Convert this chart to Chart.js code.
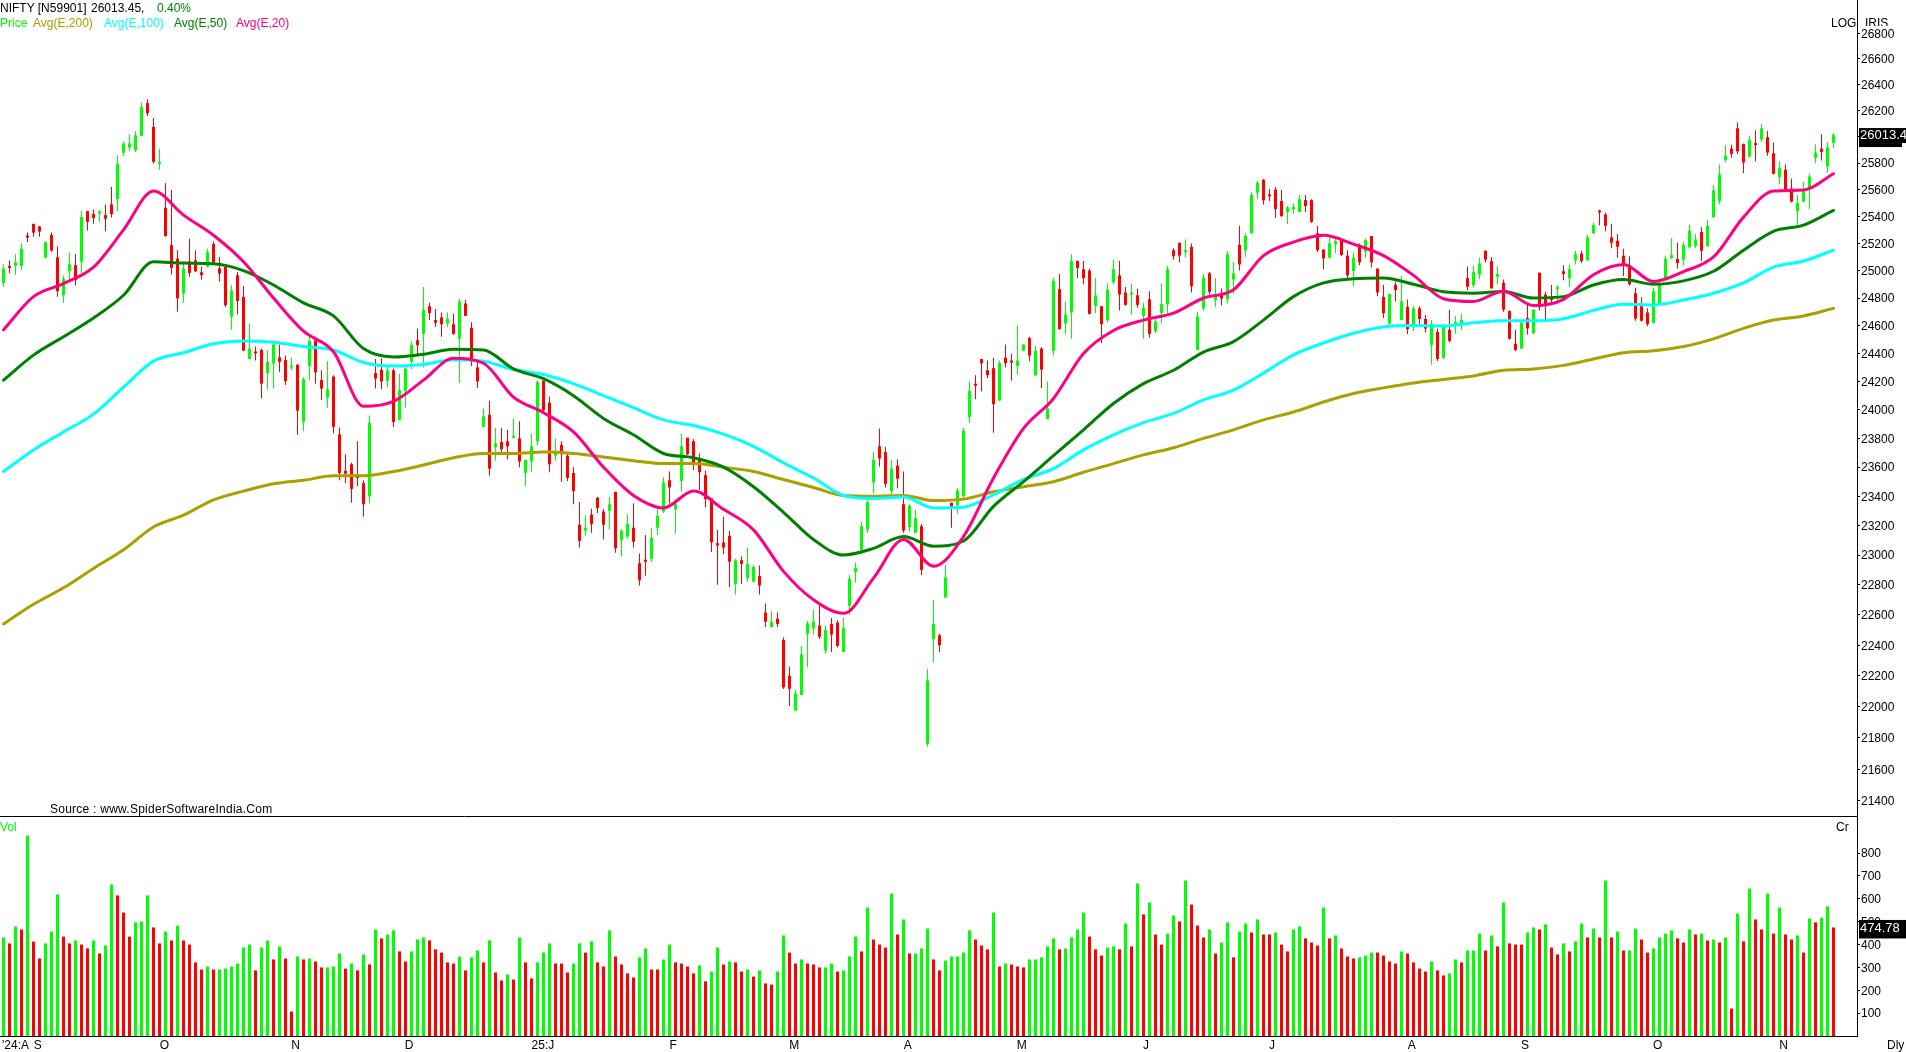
<!DOCTYPE html>
<html>
<head>
<meta charset="utf-8">
<title>NIFTY</title>
<script src="https://cdn.jsdelivr.net/npm/chart.js@4/dist/chart.umd.min.js"></script>
<style>
    html, body { margin: 0; padding: 0; background: #fff; width: 1906px; height: 1052px; overflow: hidden; }
    canvas { position: absolute; left: 0; display: block; }
    #priceChart { top: 0; }
    #volumeChart { top: 817px; }
    .txt { position: absolute; font: 12px/14px "Liberation Sans", sans-serif; white-space: pre; color: #000; }
</style>
</head>
<body>
<canvas id="priceChart" width="1906" height="817"></canvas>
<canvas id="volumeChart" width="1906" height="235"></canvas>

<div class="txt" style="left:0;top:1px">NIFTY [N59901]</div>
<div class="txt" style="left:91px;top:1px">26013.45,</div>
<div class="txt" style="left:157px;top:1px;color:#008000">0.40%</div>
<div class="txt" style="left:0;top:16px;color:#00ff00">Price</div>
<div class="txt" style="left:33px;top:16px;color:#aaa000">Avg(E,200)</div>
<div class="txt" style="left:104px;top:16px;color:#00ffff">Avg(E,100)</div>
<div class="txt" style="left:174px;top:16px;color:#008000">Avg(E,50)</div>
<div class="txt" style="left:236px;top:16px;color:#ff0080">Avg(E,20)</div>
<div class="txt" style="left:1831px;top:16px">LOG</div>
<div class="txt" style="left:1865px;top:16px;height:10px;overflow:hidden">IRIS</div>
<div class="txt" style="left:50px;top:802px;letter-spacing:0.25px">Source : www.SpiderSoftwareIndia.Com</div>
<div class="txt" style="left:0;top:820px;color:#00ff00">Vol</div>
<div class="txt" style="left:1836px;top:820px">Cr</div>
<div class="txt" style="left:1887px;top:1038px">Dly</div>

<script>
// =====
// Data
// =====
const candleOpen = [
    24910, 25032, 25035, 25035, 25255, 25345, 25325, 25095, 25262, 25098,
    24820, 24995, 25040, 25065, 25440, 25418, 25422, 25410, 25490, 25530,
    25878, 25918, 25898, 26007, 26258, 26075, 25795, 25465, 25188, 25088,
    24832, 25067, 25075, 24988, 25027, 25195, 25017, 25027, 24665, 24965,
    24808, 24360, 24412, 24425, 24260, 24328, 24372, 24353, 24300, 24320,
    23917, 24310, 24495, 24210, 24085, 24235, 23828, 23575, 23620, 23540,
    23490, 23400, 24260, 24285, 24205, 24280, 23930, 24135, 24340, 24495,
    24540, 24740, 24640, 24660, 24615, 24610, 24505, 24760, 24585, 24300,
    23880, 23965, 23740, 23775, 23780, 23805, 23800, 23560, 23640, 23780,
    24205, 24050, 23680, 23755, 23680, 23560, 23205, 23165, 23275, 23390,
    23295, 23300, 23430, 23100, 23125, 23185, 22945, 22965, 22975, 23185,
    23295, 23510, 23310, 23505, 23805, 23780, 23650, 23545, 23385, 23080,
    23085, 23130, 22805, 22965, 22845, 22820, 22860, 22615, 22520, 22575,
    22435, 22200, 21975, 22075, 22475, 22510, 22530, 22365, 22540, 22550,
    22355, 22660, 22885, 23035, 23175, 23495, 23745, 23705, 23435, 23610,
    23345, 23190, 23150, 23195, 21760, 22440, 22465, 22715, 23355, 23340,
    23400, 23950, 24185, 24360, 24280, 24295, 24065, 24370, 24345, 24310,
    24420, 24510, 24245, 24435, 23935, 24420, 24865, 24615, 24695, 25070,
    25010, 25000, 24740, 24740, 24640, 24915, 24965, 24840, 24825, 24820,
    24670, 24790, 24560, 24690, 24755, 25150, 25205, 25135, 25175, 24425,
    24725, 24980, 24785, 24820, 24790, 24935, 25190, 25150, 25274, 25578,
    25675, 25560, 25600, 25515, 25433, 25455, 25433, 25522, 25522, 25275,
    25155, 25095, 25195, 25225, 25110, 24998, 25175, 25140, 25255, 25015,
    24807, 24615, 24895, 24640, 24735, 24600, 24725, 24648, 24460, 24555,
    24370, 24570, 24605, 24605, 24945, 24892, 24970, 25145, 25070, 24955,
    24910, 24705, 24470, 24435, 24655, 24545, 24985, 24825, 24810, 24865,
    24995, 24945, 25075, 25125, 25075, 25275, 25445, 25415, 25245, 25220,
    25110, 25040, 24835, 24740, 24695, 24620, 24760, 24945, 25090, 25085,
    25080, 25170, 25180, 25285, 25180, 25395, 25515, 25825, 25910, 26065,
    25945, 25850, 25950, 25980, 25997, 25875, 25695, 25750, 25610, 25440,
    25510, 25610, 25840, 25910, 25775, 25955
];
const candleHigh = [
    25047, 25075, 25120, 25200, 25280, 25345, 25330, 25215, 25280, 25180,
    24965, 25135, 25120, 25445, 25440, 25452, 25448, 25490, 25620, 25860,
    25965, 26020, 26042, 26262, 26288, 26143, 25910, 25650, 25600, 25150,
    25050, 25235, 25150, 25030, 25160, 25215, 25100, 25040, 24892, 24990,
    24890, 24615, 24450, 24435, 24425, 24480, 24465, 24385, 24370, 24322,
    24230, 24536, 24520, 24280, 24345, 24245, 23877, 23690, 23630, 23780,
    23510, 23960, 24360, 24365, 24310, 24295, 24255, 24300, 24490, 24580,
    24880, 24765, 24720, 24695, 24695, 24685, 24795, 24785, 24625, 24360,
    24010, 24065, 23875, 23875, 23860, 23940, 23920, 23650, 23830, 24210,
    24210, 24095, 23800, 23780, 23700, 23600, 23360, 23270, 23315, 23395,
    23315, 23395, 23430, 23175, 23275, 23350, 23010, 23135, 23185, 23315,
    23530, 23570, 23380, 23835, 23805, 23795, 23695, 23575, 23385, 23170,
    23260, 23165, 22975, 22990, 23050, 22930, 22930, 22675, 22625, 22615,
    22450, 22260, 22110, 22395, 22560, 22635, 22665, 22530, 22580, 22565,
    22580, 22865, 22950, 23225, 23370, 23705, 23870, 23740, 23650, 23655,
    23570, 23345, 23305, 23210, 22245, 22700, 22475, 22935, 23355, 23455,
    23875, 24200, 24245, 24360, 24350, 24370, 24350, 24465, 24400, 24600,
    24465, 24520, 24455, 24445, 24200, 24950, 24975, 24775, 25120, 25075,
    25070, 25015, 24945, 24740, 24910, 25080, 25070, 24880, 24905, 24870,
    24765, 24850, 24655, 24905, 25035, 25165, 25205, 25230, 25200, 24700,
    24975, 24990, 24945, 24870, 25145, 25065, 25330, 25275, 25580, 25665,
    25680, 25605, 25620, 25598, 25478, 25498, 25560, 25560, 25528, 25330,
    25155, 25245, 25245, 25230, 25150, 25130, 25200, 25237, 25255, 25015,
    24895, 24830, 24920, 24960, 24790, 24740, 24740, 24677, 24640, 24580,
    24612, 24715, 24670, 24685, 25030, 25035, 25095, 25150, 25100, 25030,
    24935, 24710, 24570, 24625, 24760, 24720, 24985, 24845, 24895, 24895,
    25040, 25045, 25145, 25145, 25265, 25355, 25450, 25430, 25345, 25270,
    25160, 25105, 24875, 24805, 24725, 24875, 24925, 25110, 25240, 25205,
    25210, 25340, 25270, 25320, 25375, 25635, 25790, 25935, 25940, 26110,
    25950, 26010, 26050, 26100, 26045, 25957, 25815, 25790, 25685, 25560,
    25660, 25720, 25942, 26020, 25960, 26030
];
const candleLow = [
    24880, 24980, 24970, 25003, 25210, 25250, 25250, 25095, 25137, 24810,
    24765, 24925, 24893, 24978, 25295, 25345, 25360, 25290, 25393, 25440,
    25855, 25890, 25885, 26005, 26160, 25798, 25750, 25250, 24972, 24700,
    24765, 24955, 24990, 24935, 25025, 25050, 24920, 24735, 24570, 24680,
    24420, 24360, 24350, 24080, 24145, 24150, 24270, 24175, 24280, 23825,
    23850, 24210, 24185, 24070, 24015, 23835, 23510, 23490, 23355, 23470,
    23260, 23350, 24150, 24145, 24160, 23880, 23925, 24015, 24290, 24380,
    24300, 24640, 24590, 24520, 24590, 24535, 24190, 24670, 24310, 24155,
    23880, 23540, 23645, 23705, 23655, 23800, 23600, 23470, 23565, 23750,
    23985, 23565, 23645, 23500, 23505, 23345, 23050, 23130, 23150, 23285,
    23105, 23175, 23015, 22990, 23110, 23050, 22795, 22860, 22955, 23135,
    23285, 23350, 23145, 23430, 23685, 23580, 23445, 23325, 23020, 22800,
    23005, 22785, 22735, 22805, 22820, 22815, 22735, 22520, 22515, 22520,
    22115, 22005, 21970, 22075, 22255, 22470, 22440, 22345, 22355, 22385,
    22355, 22600, 22815, 23005, 23150, 23420, 23605, 23460, 23415, 23455,
    23150, 23160, 23150, 22865, 21745, 22290, 22355, 22715, 23185, 23280,
    23385, 23910, 24075, 24130, 24225, 23840, 24060, 24300, 24205, 24250,
    24415, 24345, 24240, 24155, 23935, 24385, 24570, 24540, 24505, 24945,
    24900, 24680, 24690, 24475, 24620, 24900, 24710, 24745, 24680, 24730,
    24505, 24515, 24545, 24615, 24690, 25080, 25060, 25095, 24840, 24425,
    24705, 24825, 24735, 24745, 24760, 24830, 25000, 25100, 25274, 25530,
    25490, 25515, 25390, 25398, 25343, 25418, 25433, 25433, 25352, 25137,
    25010, 25090, 25130, 25105, 24945, 24885, 25040, 25095, 25025, 24815,
    24655, 24610, 24775, 24640, 24540, 24560, 24612, 24550, 24320, 24347,
    24360, 24478, 24540, 24570, 24858, 24875, 24937, 25060, 24870, 24900,
    24700, 24500, 24415, 24430, 24535, 24540, 24710, 24640, 24750, 24775,
    24930, 24880, 25045, 25055, 25075, 25270, 25335, 25290, 25165, 25095,
    24960, 24890, 24635, 24630, 24595, 24615, 24760, 24940, 25085, 25015,
    25035, 25170, 25165, 25070, 25175, 25390, 25490, 25805, 25840, 25870,
    25725, 25840, 25815, 25965, 25857, 25715, 25640, 25595, 25505, 25335,
    25510, 25455, 25800, 25820, 25725, 25915
];
const candleClose = [
    25015, 25020, 25060, 25160, 25243, 25280, 25288, 25210, 25147, 24850,
    24940, 25047, 24930, 25395, 25360, 25388, 25432, 25383, 25418, 25795,
    25950, 25950, 26012, 26228, 26180, 25810, 25808, 25255, 25020, 24797,
    25015, 24983, 24995, 24967, 25135, 25060, 24978, 24748, 24855, 24778,
    24420, 24435, 24400, 24185, 24340, 24465, 24340, 24202, 24310, 23995,
    24216, 24490, 24265, 24150, 24145, 23880, 23560, 23555, 23450, 23525,
    23345, 23910, 24220, 24200, 24280, 23915, 24140, 24290, 24460, 24460,
    24715, 24690, 24620, 24610, 24650, 24540, 24775, 24670, 24340, 24200,
    23955, 23590, 23765, 23725, 23745, 23818, 23640, 23650, 23745, 24195,
    23995, 23620, 23695, 23690, 23525, 23435, 23095, 23185, 23210, 23320,
    23205, 23345, 23045, 23165, 23210, 23090, 22830, 22955, 23115, 23265,
    23495, 23460, 23345, 23745, 23690, 23620, 23565, 23380, 23085, 23065,
    23050, 22955, 22965, 22940, 22940, 22920, 22795, 22555, 22555, 22540,
    22125, 22115, 22085, 22340, 22545, 22555, 22455, 22500, 22470, 22395,
    22515, 22840, 22915, 23195, 23360, 23650, 23660, 23485, 23590, 23520,
    23165, 23335, 23250, 22900, 22170, 22540, 22400, 22850, 23325, 23440,
    23855, 24135, 24170, 24330, 24245, 24040, 24330, 24330, 24335, 24350,
    24465, 24385, 24420, 24285, 24010, 24925, 24575, 24680, 25070, 25020,
    24945, 24685, 24820, 24610, 24860, 25010, 24825, 24750, 24840, 24750,
    24730, 24540, 24630, 24755, 25010, 25105, 25110, 25145, 24885, 24665,
    24950, 24845, 24820, 24795, 25120, 24980, 25045, 25255, 25560, 25652,
    25520, 25550, 25455, 25402, 25468, 25468, 25528, 25478, 25360, 25150,
    25090, 25200, 25218, 25115, 24965, 25095, 25060, 25225, 25060, 24840,
    24690, 24830, 24858, 24775, 24575, 24725, 24648, 24578, 24612, 24360,
    24598, 24490, 24625, 24640, 24882, 24990, 25053, 25080, 24870, 24975,
    24715, 24505, 24425, 24620, 24580, 24715, 24735, 24745, 24785, 24875,
    24975, 25010, 25120, 25070, 25245, 25335, 25430, 25330, 25205, 25175,
    25050, 24900, 24650, 24635, 24610, 24850, 24900, 25085, 25115, 25055,
    25190, 25295, 25230, 25145, 25330, 25595, 25715, 25855, 25870, 25890,
    25805, 25975, 25937, 26065, 25880, 25720, 25765, 25600, 25510, 25500,
    25600, 25700, 25880, 25885, 25920, 26013.45
];

const avgIndex = [
    0, 5, 10, 15, 20, 25, 30, 35, 40, 45, 50, 55, 60, 65, 70, 75,
    80, 85, 90, 95, 100, 105, 110, 115, 120, 125, 130, 135, 140, 145, 150, 155,
    160, 165, 170, 175, 180, 185, 190, 195, 200, 205, 210, 215, 220, 225, 230, 235,
    240, 245, 250, 255, 260, 265, 270, 275, 280, 285, 290, 295, 300, 305
];
const avgE200 = [
    22540, 22670, 22780, 22910, 23035, 23190, 23270, 23375, 23435, 23485, 23510, 23540, 23540, 23570, 23615, 23665,
    23695, 23695, 23705, 23695, 23670, 23645, 23625, 23625, 23600, 23570, 23515, 23460, 23405, 23400, 23405, 23370,
    23380, 23430, 23465, 23500, 23565, 23625, 23685, 23735, 23800, 23860, 23930, 23985, 24055, 24115, 24155, 24190,
    24215, 24240, 24280, 24290, 24315, 24360, 24405, 24420, 24450, 24505, 24580, 24640, 24670, 24725
];
const avgE100 = [
    23570, 23720, 23845, 23970, 24160, 24345, 24405, 24470, 24490, 24480, 24450, 24425, 24335, 24310, 24322, 24355,
    24345, 24285, 24250, 24185, 24100, 24015, 23930, 23890, 23830, 23745, 23630, 23525, 23405, 23385, 23395, 23320,
    23325, 23410, 23515, 23590, 23720, 23825, 23910, 23975, 24070, 24140, 24260, 24390, 24475, 24545, 24590, 24600,
    24597, 24620, 24635, 24635, 24650, 24710, 24755, 24750, 24785, 24835, 24910, 25025, 25070, 25150
];
const avgE50 = [
    24210, 24388, 24520, 24655, 24820, 25065, 25055, 25050, 25000, 24895, 24765, 24670, 24435, 24375, 24395, 24430,
    24425, 24290, 24220, 24100, 23940, 23825, 23695, 23665, 23600, 23465, 23290, 23105, 23000, 23045, 23125, 23060,
    23095, 23330, 23500, 23680, 23860, 24045, 24185, 24280, 24410, 24485, 24640, 24810, 24910, 24940, 24945, 24900,
    24845, 24835, 24848, 24800, 24810, 24895, 24935, 24900, 24925, 24995, 25150, 25290, 25335, 25445
];
const avgE20 = [
    24570, 24810, 24905, 25025, 25300, 25590, 25410, 25260, 25065, 24800, 24560, 24412, 24025, 24060, 24210, 24365,
    24330, 24090, 23980, 23845, 23600, 23405, 23320, 23435, 23310, 23170, 22890, 22700, 22610, 22845, 23105, 22925,
    23125, 23525, 23870, 24080, 24400, 24565, 24640, 24690, 24800, 24860, 25110, 25210, 25260, 25195, 25110, 24965,
    24795, 24775, 24850, 24745, 24790, 24970, 25045, 24920, 24993, 25100, 25395, 25590, 25597, 25720
];

const volume = [
    431, 405, 479, 466, 877, 413, 339, 405, 457, 619,
    435, 405, 418, 400, 383, 418, 361, 396, 663, 615,
    540, 435, 497, 501, 615, 475, 405, 457, 418, 483,
    418, 400, 322, 291, 304, 291, 291, 295, 304, 317,
    387, 400, 287, 387, 418, 335, 392, 339, 107, 348,
    335, 339, 326, 300, 300, 304, 361, 295, 317, 287,
    357, 313, 466, 427, 444, 462, 370, 326, 370, 422,
    431, 418, 379, 365, 322, 317, 348, 287, 344, 374,
    322, 418, 278, 243, 269, 247, 431, 322, 252, 322,
    365, 405, 317, 317, 278, 317, 405, 365, 414, 322,
    304, 462, 348, 313, 274, 256, 344, 383, 291, 291,
    335, 400, 322, 317, 304, 274, 309, 239, 282, 387,
    313, 326, 322, 282, 291, 260, 287, 230, 225, 282,
    440, 365, 317, 335, 317, 313, 300, 300, 317, 282,
    287, 348, 435, 370, 562, 422, 400, 387, 623, 444,
    510, 361, 361, 383, 470, 335, 287, 330, 348, 348,
    365, 462, 422, 396, 379, 540, 304, 317, 313, 304,
    300, 335, 335, 344, 392, 427, 379, 383, 431, 466,
    540, 435, 379, 352, 387, 392, 379, 492, 392, 667,
    532, 584, 444, 400, 448, 527, 501, 680, 575, 483,
    431, 466, 361, 409, 497, 344, 457, 492, 453, 510,
    444, 444, 453, 400, 370, 466, 479, 427, 409, 396,
    562, 427, 440, 383, 348, 339, 344, 352, 365, 365,
    352, 326, 317, 370, 361, 322, 295, 282, 326, 287,
    265, 274, 335, 322, 374, 374, 448, 374, 440, 392,
    584, 405, 400, 400, 453, 475, 466, 488, 387, 357,
    405, 370, 414, 492, 431, 470, 431, 680, 431, 457,
    374, 374, 470, 422, 365, 383, 431, 448, 462, 427,
    409, 466, 444, 448, 418, 422, 409, 431, 120, 536,
    414, 645, 510, 466, 623, 448, 562, 444, 422, 440,
    365, 514, 497, 518, 567, 474.78
];
// G or R for each volume bar, it does not always follow the candle colour
const volumeSide = (
    'GRGRGRRGGG' + 'RRGRRGRGGR' + 'RRGGGRRGRG' + 'RR' +
    'RRGRGGGGGG' + 'RGGRGRRGRG' + 'RRGGGRGRGR' + 'GRGGRRGGGR' +
    'RRRRGRGGRG' + 'RRGRGRRGGG' + 'RRRGGRGRRG' + 'RRRRGGRRGG' +
    'RRRRGRGGRG' + 'RRGRGRRGGR' + 'RGRRRGGRGG' + 'GRGRRRGRGR' +
    'GGGRRGGGGG' + 'RRRGRGRRRG' + 'GGGGRGGGGR' + 'RRGGRGRGRG' +
    'RRGGRGRRRG' + 'RGGRGGRGRR' + 'GRRGGRRRGR' + 'GRRRGGGRRR' +
    'RGRRRRGRRG' + 'GRGGGRGRGR' + 'RRGGRGRRGR' + 'GGRGRGRGRG' +
    'GRRGGGGRRG' + 'RGRGRGRGRG' + 'RRGRGRRGRG' + 'RGGR'
).split('');

const priceTicks = [26800, 26600, 26400, 26200, 26000, 25800, 25600, 25400, 25200, 25000, 24800, 24600, 24400, 24200,
    24000, 23800, 23600, 23400, 23200, 23000, 22800, 22600, 22400, 22200, 22000, 21800, 21600, 21400];
const volumeTicks = [100, 200, 300, 400, 500, 600, 700, 800];
const monthLabels = ["'24:A", 'S', 'O', 'N', 'D', '25:J', 'F', 'M', 'A', 'M', 'J', 'J', 'A', 'S', 'O', 'N'];
const monthAt = [2, 5.7, 26.8, 48.7, 67.6, 89.9, 111.6, 131.8, 150.7, 169.7, 190.4, 211.4, 234.7, 253.6, 275.7, 296.7];

const lastPriceLabel = '26013.4';
const lastVolumeLabel = '474.78';

const GREEN = '#00ff00';
const RED = '#ff0000';
const FONT = { family: '"Liberation Sans", sans-serif', size: 12 };

// ==========
// Shared x scale: 6px per session, first session centred on x=3.5
// ==========
function sessionAxis(extra) {
    const fitHeight = extra.fitHeight;
    delete extra.fitHeight;
    return Object.assign({
        type: 'linear',
        bounds: 'data',
        offset: false,
        min: -3.5 / 6,
        max: (1857 - 3.5) / 6,
        afterFit: s => {
            s.height = fitHeight;
            s.paddingLeft = 0;
            s.paddingRight = 0;
        },
        border: { color: '#000', width: 1 },
        grid: { drawOnChartArea: false, drawTicks: false }
    }, extra);
}

function valueAxis(ticks) {
    return {
        position: 'right',
        bounds: 'data',
        afterFit: s => {
            s.width = 49;
            s.paddingTop = 0;
            s.paddingBottom = 0;
        },
        afterBuildTicks: s => { s.ticks = ticks.map(v => ({ value: v })); },
        border: { color: '#000', width: 1 },
        grid: { drawOnChartArea: false, color: '#000', tickLength: 3 },
        ticks: {
            color: '#000',
            font: FONT,
            padding: 1,
            labelOffset: 1,
            autoSkip: false,
            maxRotation: 0,
            callback: v => String(v)
        }
    };
}

// black box with the last value, drawn over the axis
function lastValueFlag(id, value, label, above, below, notch) {
    return {
        id: id,
        afterDraw(chart) {
            const ctx = chart.ctx;
            const y = chart.scales.y.getPixelForValue(value);
            ctx.save();
            ctx.fillStyle = '#000';
            ctx.fillRect(1859, y - above, 47, above + below);
            if (notch) ctx.fillRect(1859, y + below, 43, notch);
            ctx.fillStyle = '#fff';
            ctx.font = '13px "Liberation Sans", sans-serif';
            ctx.textBaseline = 'middle';
            ctx.fillText(label, 1860, y + 0.5);
            ctx.restore();
        }
    };
}

// ============
// Price panel
// ============
const wickData = candleHigh.map((h, i) => ({ x: i, y: [candleLow[i], h] }));
const bodyData = candleOpen.map((o, i) => ({ x: i, y: [o, candleClose[i]] }));
const candleColors = candleOpen.map((o, i) => candleClose[i] >= o ? GREEN : RED);

function avgLine(values, color, order) {
    return {
        type: 'line',
        data: values.map((v, i) => ({ x: avgIndex[i], y: v })),
        borderColor: color,
        borderWidth: 3,
        pointRadius: 0,
        cubicInterpolationMode: 'monotone',
        borderJoinStyle: 'round',
        borderCapStyle: 'round',
        order: order
    };
}

new Chart(document.getElementById('priceChart'), {
    data: {
        datasets: [
            {
                type: 'bar', data: wickData, backgroundColor: candleColors,
                barThickness: 1, grouped: false, inflateAmount: 0, borderWidth: 0, order: 6
            },
            {
                type: 'bar', data: bodyData, backgroundColor: candleColors,
                barThickness: 3, grouped: false, inflateAmount: 0, borderWidth: 0, minBarLength: 2, order: 5
            },
            avgLine(avgE200, '#aaa000', 4),
            avgLine(avgE100, '#00ffff', 3),
            avgLine(avgE50, '#008000', 2),
            avgLine(avgE20, '#ff0080', 1)
        ]
    },
    options: {
        responsive: false,
        animation: false,
        devicePixelRatio: 1,
        layout: { padding: 0 },
        plugins: { legend: { display: false }, tooltip: { enabled: false } },
        scales: {
            x: sessionAxis({ fitHeight: 1, ticks: { display: false } }),
            y: Object.assign(valueAxis(priceTicks), { type: 'logarithmic', min: 21306, max: 27064 })
        }
    },
    plugins: [lastValueFlag('priceFlag', candleClose[candleClose.length - 1], lastPriceLabel, 7, 8, 4)]
});

// =============
// Volume panel
// =============
new Chart(document.getElementById('volumeChart'), {
    data: {
        datasets: [{
            type: 'bar',
            data: volume.map((v, i) => ({ x: i, y: v })),
            backgroundColor: volumeSide.map(s => s === 'G' ? GREEN : RED),
            barThickness: 3,
            inflateAmount: 0,
            borderWidth: 0
        }]
    },
    options: {
        responsive: false,
        animation: false,
        devicePixelRatio: 1,
        layout: { padding: 0 },
        plugins: { legend: { display: false }, tooltip: { enabled: false } },
        scales: {
            x: sessionAxis({
                fitHeight: 16,
                afterBuildTicks: s => { s.ticks = monthAt.map(v => ({ value: v })); },
                ticks: {
                    color: '#000',
                    font: FONT,
                    padding: 2,
                    autoSkip: false,
                    maxRotation: 0,
                    callback: (v, i) => monthLabels[i]
                }
            }),
            y: Object.assign(valueAxis(volumeTicks), { min: 0, max: 958 })
        }
    },
    plugins: [lastValueFlag('volumeFlag', volume[volume.length - 1], lastVolumeLabel, 7.5, 11, 0)]
});
</script>
</body>
</html>
